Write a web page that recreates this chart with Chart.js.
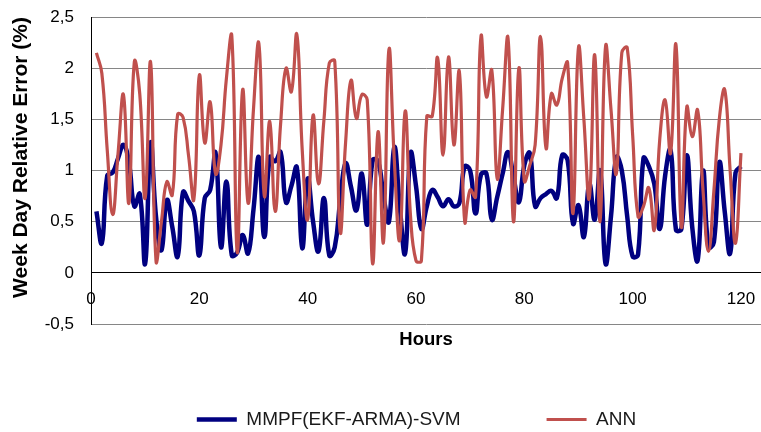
<!DOCTYPE html>
<html>
<head>
<meta charset="utf-8">
<script src="https://cdn.jsdelivr.net/npm/chart.js@4/dist/chart.umd.min.js"></script>
<style>
  html, body { margin: 0; padding: 0; background: #ffffff; }
  canvas { display: block; }
</style>
</head>
<body>
<canvas id="chart" width="761" height="432"></canvas>
<script>
// Hours of the forecast week (1..120)
const hours = Array.from({ length: 120 }, (_, i) => i + 1);

// Week-day relative error (%) of each forecasting method, hour by hour
const mmpfSvm = [
  0.60, 0.29, 0.95, 0.98, 1.12, 1.25, 1.08, 0.65, 0.77, 0.09,
  1.27, 0.55, 0.22, 0.71, 0.45, 0.16, 0.79, 0.70, 0.60, 0.17,
  0.73, 0.81, 1.17, 0.25, 0.89, 0.17, 0.20, 0.37, 0.19, 0.62,
  1.13, 0.35, 1.13, 1.09, 1.18, 0.69, 0.85, 1.03, 0.24, 0.92,
  0.50, 0.21, 0.73, 0.17, 0.25, 0.70, 1.07, 0.84, 0.61, 0.97,
  0.47, 1.10, 1.09, 0.75, 0.50, 1.23, 0.65, 0.19, 1.17, 0.85,
  0.43, 0.65, 0.81, 0.74, 0.65, 0.72, 0.65, 0.68, 1.04, 1.00,
  0.58, 0.96, 0.97, 0.52, 0.74, 0.97, 1.18, 0.94, 0.69, 1.05,
  1.17, 0.65, 0.73, 0.77, 0.80, 0.73, 1.15, 1.10, 0.48, 0.66,
  0.35, 0.87, 0.52, 1.00, 0.09, 0.55, 1.13, 1.00, 0.55, 0.16,
  0.18, 1.12, 1.04, 0.87, 0.43, 0.95, 1.20, 0.42, 0.43, 1.15,
  0.45, 0.12, 1.00, 0.25, 0.30, 1.08, 0.60, 0.19, 0.98, 1.04
];

const ann = [
  2.15, 1.95, 1.20, 0.57, 1.17, 1.74, 0.68, 2.06, 1.75, 0.73,
  2.06, 0.12, 0.50, 0.89, 0.76, 1.55, 1.52, 1.15, 0.72, 1.93,
  1.27, 1.67, 0.97, 1.25, 1.90, 2.31, 0.20, 1.79, 0.68, 1.60,
  2.24, 0.75, 1.48, 0.60, 1.45, 2.00, 1.77, 2.33, 1.20, 0.52,
  1.54, 0.87, 1.49, 2.05, 2.07, 0.40, 1.27, 1.88, 1.51, 1.74,
  1.69, 0.09, 1.38, 0.30, 2.18, 1.10, 0.32, 1.58, 0.55, 0.12,
  0.12, 1.53, 1.53, 2.10, 1.15, 2.11, 1.25, 1.97, 0.50, 0.81,
  0.74, 2.31, 1.72, 1.98, 0.92, 1.60, 2.29, 0.50, 2.00, 0.90,
  1.05, 1.25, 2.31, 1.22, 1.75, 1.64, 1.90, 2.05, 0.58, 2.20,
  1.50, 0.73, 2.13, 0.50, 2.21, 1.60, 0.97, 2.15, 2.20, 1.35,
  0.55, 0.65, 0.83, 0.42, 1.30, 1.69, 1.17, 2.23, 0.45, 1.62,
  1.33, 1.59, 0.80, 0.21, 0.80, 1.50, 1.79, 1.00, 0.29, 1.17
];

// Axis ticks
const xTicks = [0, 20, 40, 60, 80, 100, 120];
const yTicks = [-0.5, 0, 0.5, 1, 1.5, 2, 2.5];

const toPoints = values => values.map((v, i) => ({ x: hours[i], y: v }));
const fmtY = v => String(v).replace('.', ',');

const FONT_FAMILY = "'Liberation Sans', Arial, sans-serif";
const TICK_SIZE = 17;
const Y_TITLE_SIZE = 21;

// Left padding of the layout (also where the legend box starts);
// the y axis fills the rest up to the plot edge.
const PAD_LEFT = 72;
const PLOT_LEFT = 91;
const Y_LABEL_GAP = 17;
const Y_TITLE_CENTER_X = 21;

// Width of the widest y tick label, so the labels can be right-aligned
// at a fixed distance from the axis line.
const measure = document.createElement('canvas').getContext('2d');
measure.font = TICK_SIZE + 'px ' + FONT_FAMILY;
const widestY = Math.max(...yTicks.map(v => measure.measureText(fmtY(v)).width));

Chart.defaults.font.family = FONT_FAMILY;
Chart.defaults.color = '#000000';

new Chart(document.getElementById('chart'), {
  type: 'line',
  data: {
    datasets: [
      {
        label: 'MMPF(EKF-ARMA)-SVM',
        data: toPoints(mmpfSvm),
        borderColor: '#000080',
        backgroundColor: '#000080',
        borderWidth: 4.5,
        pointRadius: 0,
        tension: 0.45,
        order: 1
      },
      {
        label: 'ANN',
        data: toPoints(ann),
        borderColor: '#C0504D',
        backgroundColor: '#C0504D',
        borderWidth: 3.2,
        pointRadius: 0,
        tension: 0.45,
        order: 0
      }
    ]
  },
  options: {
    responsive: false,
    animation: false,
    events: [],
    layout: { padding: { left: PAD_LEFT, top: 17, right: 0, bottom: 0 } },
    scales: {
      x: {
        type: 'linear',
        position: { y: 0 },
        min: 0,
        max: 123.7,
        afterBuildTicks: scale => { scale.ticks = xTicks.map(v => ({ value: v })); },
        afterFit: scale => {
          scale.height = 78;
          scale.paddingLeft = 0;
          scale.paddingRight = 0;
        },
        grid: { display: false, drawTicks: false },
        border: { display: true, color: '#000000', width: 1 },
        ticks: {
          padding: 16,
          maxRotation: 0,
          autoSkip: false,
          font: { size: TICK_SIZE },
          color: '#000000'
        },
        title: {
          display: true,
          text: 'Hours',
          padding: 0,
          font: { size: 18.5, weight: 'bold' },
          color: '#000000'
        }
      },
      y: {
        type: 'linear',
        position: 'left',
        min: -0.5,
        max: 2.5,
        afterBuildTicks: scale => { scale.ticks = yTicks.map(v => ({ value: v })); },
        afterFit: scale => { scale.width = PLOT_LEFT - PAD_LEFT; },
        grid: {
          drawTicks: false,
          lineWidth: 1,
          color: ctx => (ctx.tick && ctx.tick.value === 0 ? '#000000' : '#868686')
        },
        border: { display: true, color: '#000000', width: 1 },
        ticks: {
          // right-aligned labels ending Y_LABEL_GAP px left of the axis
          mirror: true,
          crossAlign: 'far',
          padding: -(Y_LABEL_GAP + widestY),
          font: { size: TICK_SIZE },
          color: '#000000',
          callback: v => fmtY(v)
        },
        title: {
          display: true,
          text: 'Week Day Relative Error (%)',
          align: 'end',
          padding: { top: Y_TITLE_CENTER_X - PAD_LEFT - Y_TITLE_SIZE * 0.6, bottom: 0 },
          font: { size: Y_TITLE_SIZE, weight: 'bold' },
          color: '#000000'
        }
      }
    },
    plugins: {
      tooltip: { enabled: false },
      legend: {
        position: 'bottom',
        fullSize: true,
        maxHeight: 108,
        labels: {
          sort: (a, b) => a.datasetIndex - b.datasetIndex,
          usePointStyle: true,
          pointStyle: 'line',
          pointStyleWidth: 40,
          padding: 86,
          color: '#1a1a1a',
          font: { size: 19 }
        }
      }
    }
  }
});
</script>
</body>
</html>
